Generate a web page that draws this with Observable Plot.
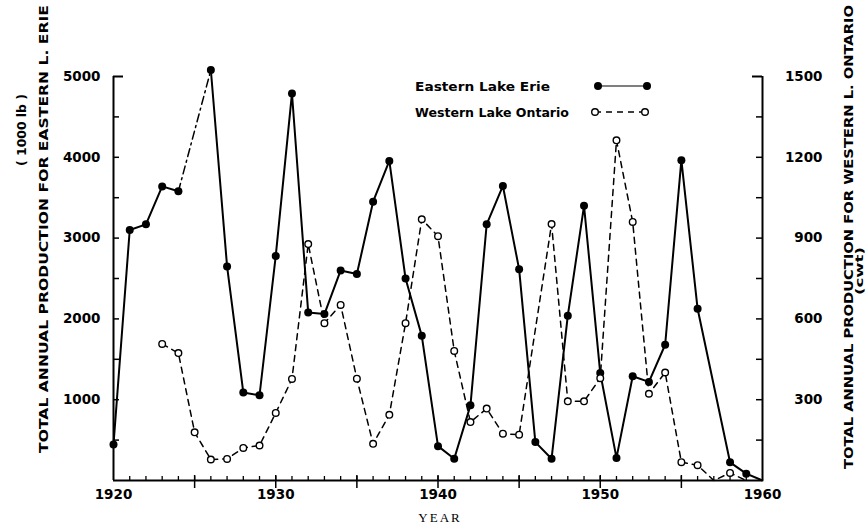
<!DOCTYPE html>
<html>
<head>
<meta charset="utf-8">
<script src="https://cdn.jsdelivr.net/npm/d3@7"></script>
<script src="https://cdn.jsdelivr.net/npm/@observablehq/plot@0.6"></script>
<style>
  html, body { margin: 0; padding: 0; background: #fff; }
  #chart { width: 866px; height: 525px; }
</style>
</head>
<body>
<div id="chart"></div>
<script>
// ---- data ----
const erieYears = [1920,1921,1922,1923,1924,1926,1927,1928,1929,1930,1931,1932,1933,1934,1935,1936,1937,1938,1939,1940,1941,1942,1943,1944,1945,1946,1947,1948,1949,1950,1951,1952,1953,1954,1955,1956,1958,1959,1960];
const erieValues = [445,3100,3170,3640,3580,5080,2650,1090,1055,2780,4790,2080,2060,2600,2555,3450,3955,2500,1790,425,270,930,3170,3645,2615,475,270,2040,3400,1330,280,1290,1220,1680,3965,2125,225,85,0];
const ontarioYears = [1923,1924,1925,1926,1927,1928,1929,1930,1931,1932,1933,1934,1935,1936,1937,1938,1939,1940,1941,1942,1943,1944,1945,1947,1948,1949,1950,1951,1952,1953,1954,1955,1956,1957,1958,1959];
const ontarioValues = [507,473,179,78,80,121,130,251,377,878,584,652,378,136,244,584,970,907,481,217,267,174,170,952,294,294,380,1263,960,322,401,68,57,0,28,0];
const xLabelTicks = [1920,1930,1940,1950,1960];
const leftTicks = [1000,2000,3000,4000,5000];
const rightTicks = [300,600,900,1200,1500];
const seriesNames = ["Eastern Lake Erie","Western Lake Ontario"];
const leftTitle = "TOTAL ANNUAL PRODUCTION FOR EASTERN L. ERIE";
const leftUnit = "( 1000 lb )";
const rightTitle = "TOTAL ANNUAL PRODUCTION FOR WESTERN L. ONTARIO";
const rightUnit = "(cwt)";
const xTitle = "YEAR";

// right axis (cwt) to left axis (1000 lb) ratio: 1500 <-> 5000
const ratio = 1500 / 5000;

const erie = erieYears.map((year, i) => ({year, value: erieValues[i]}));
const ontario = ontarioYears.map((year, i) => ({year, value: ontarioValues[i]}));

const W = 866, H = 525;
const mL = 113, mR = 104, mT = 76, mB = 45;
const plotW = W - mL - mR, plotH = H - mT - mB;
const font = "DejaVu Sans";

const chart = Plot.plot({
  width: W,
  height: H,
  marginLeft: mL,
  marginRight: mR,
  marginTop: mT,
  marginBottom: mB,
  style: {fontFamily: font, fontSize: "13px", fontWeight: "bold", background: "#fff", color: "#000", overflow: "visible"},
  x: {domain: [1920, 1960]},
  y: {domain: [0, 5000]},
  marks: [
    // frame
    Plot.ruleX([1920, 1960], {stroke: "#000", strokeWidth: 2}),
    Plot.ruleY([0], {stroke: "#000", strokeWidth: 2}),
    // left inward ticks
    Plot.tickY(d3.range(500, 5000, 500), {y: d => d, insetRight: plotW - 6, stroke: "#000", strokeWidth: 1.5}),
    Plot.tickY([5000], {y: d => d, insetRight: plotW - 10, stroke: "#000", strokeWidth: 2}),
    // right inward ticks
    Plot.tickY(d3.range(150, 1500, 150), {y: d => d / ratio, insetLeft: plotW - 6, stroke: "#000", strokeWidth: 1.5}),
    Plot.tickY([1500], {y: d => d / ratio, insetLeft: plotW - 10, stroke: "#000", strokeWidth: 2}),
    // x minor ticks (every year, inward)
    Plot.tickX(d3.range(1921, 1960), {x: d => d, insetTop: plotH - 4, stroke: "#000", strokeWidth: 1.3}),
    Plot.tickX(d3.range(1925, 1960, 5), {x: d => d, insetTop: plotH - 5, stroke: "#000", strokeWidth: 1.5}),
    Plot.axisX({ticks: d3.range(1925, 1960, 5), tickSize: 8, tickFormat: () => "", strokeWidth: 1.5, label: null}),
    Plot.axisX({ticks: xLabelTicks, tickSize: 0, tickPadding: 9, tickFormat: d => String(d), fontSize: 13.5, label: null}),
    Plot.axisY({ticks: leftTicks, tickSize: 0, tickPadding: 13, tickFormat: d => String(d), fontSize: 13.5, label: null}),
    Plot.axisY({anchor: "right", ticks: rightTicks.map(v => v / ratio), tickSize: 0, tickPadding: 60, textAnchor: "end",
      tickFormat: d => String(Math.round(d * ratio)), fontSize: 13.5, label: null}),
    // Erie lines
    Plot.line(erie, {x: "year", y: "value", z: d => d.year < 1925 ? "a" : "b", stroke: "#000", strokeWidth: 2}),
    Plot.line(erie.filter(d => d.year === 1924 || d.year === 1926), {x: "year", y: "value", stroke: "#000", strokeWidth: 1.5, strokeDasharray: "8,4,2,4"}),
    // Ontario line
    Plot.line(ontario, {x: "year", y: d => d.value / ratio, stroke: "#000", strokeWidth: 1.5, strokeDasharray: "6,5"}),
    // markers
    Plot.dot(erie.filter(d => d.value > 0), {x: "year", y: "value", r: 4, fill: "#000", stroke: "none"}),
    Plot.dot(ontario.filter(d => d.value > 0), {x: "year", y: d => d.value / ratio, r: 3.3, fill: "#fff", stroke: "#000", strokeWidth: 1.4})
  ]
});

document.getElementById("chart").appendChild(chart);

// ---- annotations: axis titles and legend ----
const svg = d3.select(chart);
const g = svg.append("g").attr("fill", "#000").attr("font-family", font).attr("font-weight", "bold");

function vtext(txt, x, cy, len, size) {
  g.append("text")
    .attr("transform", `translate(${x},${cy}) rotate(-90)`)
    .attr("text-anchor", "middle")
    .attr("dominant-baseline", "central")
    .attr("font-size", size)
    .attr("textLength", len)
    .attr("lengthAdjust", "spacingAndGlyphs")
    .text(txt);
}
vtext(leftTitle, 43, 229, 448, 13);
vtext(leftUnit, 21, 130, 72, 13);
vtext(rightTitle, 848, 237, 464, 13);
vtext(rightUnit, 859, 271, 48, 11);

g.append("text")
  .attr("x", 440).attr("y", 522)
  .attr("text-anchor", "middle")
  .attr("font-family", "Liberation Serif")
  .attr("font-weight", "normal")
  .attr("font-size", 13)
  .attr("letter-spacing", 2)
  .text(xTitle);

// legend
const lg = g.append("g");
const legendRows = [
  {name: seriesNames[0], len: 135, y: 86, x1: 598, x2: 647, filled: true},
  {name: seriesNames[1], len: 154, y: 112, x1: 595, x2: 645, filled: false}
];
legendRows.forEach(r => {
  lg.append("text").attr("x", 415).attr("y", r.y).attr("dominant-baseline", "central")
    .attr("text-anchor", "start")
    .attr("font-size", 13)
    .attr("textLength", r.len).attr("lengthAdjust", "spacingAndGlyphs")
    .text(r.name);
  lg.append("line").attr("x1", r.x1).attr("x2", r.x2).attr("y1", r.y).attr("y2", r.y)
    .attr("stroke", "#000").attr("stroke-width", r.filled ? 1.2 : 1.3)
    .attr("stroke-dasharray", r.filled ? null : "6,5");
  [r.x1, r.x2].forEach(cx => {
    lg.append("circle").attr("cx", cx).attr("cy", r.y).attr("r", r.filled ? 4 : 3.3)
      .attr("fill", r.filled ? "#000" : "#fff").attr("stroke", "#000").attr("stroke-width", r.filled ? 0 : 1.4);
  });
});
</script>
</body>
</html>
